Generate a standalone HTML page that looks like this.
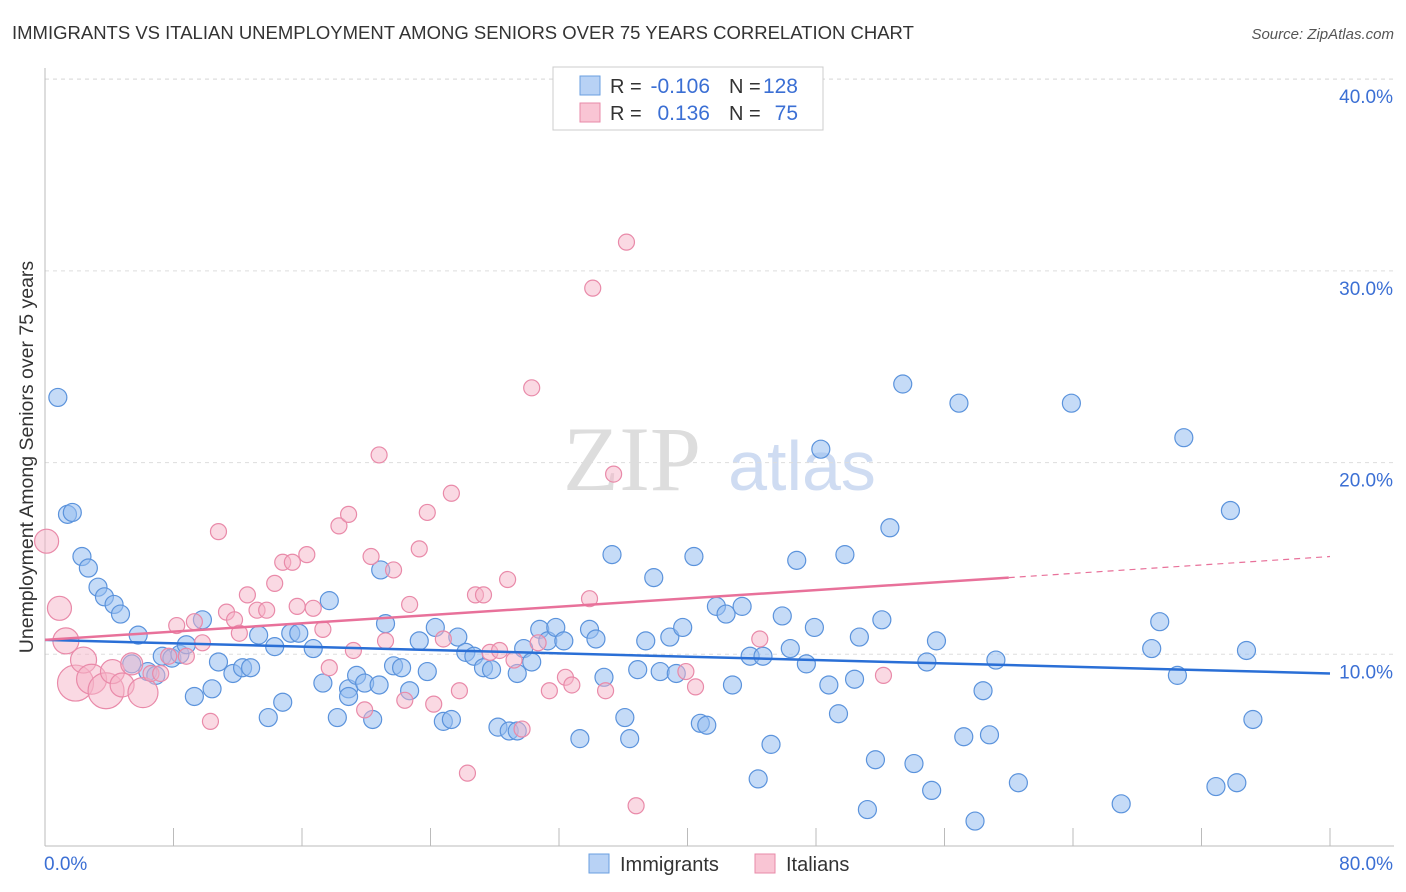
<!DOCTYPE html>
<html><head><meta charset="utf-8"><style>
body{margin:0;background:#fff;font-family:"Liberation Sans",sans-serif;}
svg{display:block}
</style></head><body>
<svg id="chart" width="1406" height="892" xmlns="http://www.w3.org/2000/svg">
<text x="12" y="39" font-size="18.5" fill="#333">IMMIGRANTS VS ITALIAN UNEMPLOYMENT AMONG SENIORS OVER 75 YEARS CORRELATION CHART</text>
<text x="1394" y="39" font-size="15" font-style="italic" fill="#555" text-anchor="end">Source: ZipAtlas.com</text>
<g>
<text x="632" y="490" font-size="92" font-family="Liberation Serif,serif" fill="#ddd" text-anchor="middle">ZIP</text>
<text x="802" y="490" font-size="70" fill="#cfdcf2" text-anchor="middle">atlas</text>
</g>
<g id="grid"></g><g id="axes"></g><g id="pts"></g><g id="trend"></g>
<text transform="translate(33,457) rotate(-90)" font-size="19.5" fill="#333" text-anchor="middle">Unemployment Among Seniors over 75 years</text>
<g>
<rect x="553" y="67" width="270" height="63" fill="#fff" stroke="#ccc"/>
<rect x="580" y="76" width="20" height="19" fill="#b8d2f5" stroke="#6a9fe0"/>
<rect x="580" y="103" width="20" height="19" fill="#f9c5d4" stroke="#e88aa8"/>
<text x="610" y="93" font-size="20" fill="#333">R =</text>
<text x="710" y="93" font-size="21" fill="#3b6fd4" text-anchor="end">-0.106</text>
<text x="729" y="93" font-size="20" fill="#333">N =</text>
<text x="798" y="93" font-size="21" fill="#3b6fd4" text-anchor="end">128</text>
<text x="610" y="120" font-size="20" fill="#333">R =</text>
<text x="710" y="120" font-size="21" fill="#3b6fd4" text-anchor="end">0.136</text>
<text x="729" y="120" font-size="20" fill="#333">N =</text>
<text x="798" y="120" font-size="21" fill="#3b6fd4" text-anchor="end">75</text>
</g>
<g>
<rect x="589" y="854" width="20" height="19" fill="#b8d2f5" stroke="#6a9fe0"/>
<text x="620" y="871" font-size="20" fill="#333">Immigrants</text>
<rect x="755" y="854" width="20" height="19" fill="#f9c5d4" stroke="#e88aa8"/>
<text x="786" y="871" font-size="20" fill="#333">Italians</text>
</g>
</svg>
<script>
const yTicks=[10,20,30,40];
const yTickLabels=["10.0%","20.0%","30.0%","40.0%"];
const xTickVals=[0,8,16,24,32,40,48,56,64,72,80];
const blueX=[0.8,1.4,1.7,2.3,2.7,3.3,3.7,4.3,4.7,5.8,5.4,6.4,6.9,7.3,7.9,8.4,8.8,9.8,9.3,10.4,10.8,11.7,12.3,12.8,13.3,13.9,14.3,14.8,15.3,15.8,17.7,16.7,17.3,18.2,18.9,18.9,19.4,19.9,20.4,20.8,20.9,21.2,21.7,22.2,22.7,23.3,23.8,24.3,24.8,25.3,25.7,26.2,26.7,27.3,27.8,28.2,28.9,29.4,29.8,30.3,29.4,30.8,31.3,31.8,32.3,33.3,33.9,34.3,34.8,35.3,36.1,36.4,36.9,37.4,37.9,38.3,38.9,39.3,39.7,40.4,40.8,41.2,41.8,42.4,42.8,43.4,43.9,44.7,45.2,44.4,45.9,46.4,46.8,47.4,47.9,48.3,48.8,49.4,49.8,50.4,50.7,51.2,51.7,52.1,52.6,53.4,54.1,54.9,55.2,55.5,56.9,57.2,57.9,58.4,58.8,59.2,60.6,63.9,67.0,68.9,69.4,70.5,70.9,72.9,73.8,74.2,74.8,75.2];
const blueY=[23.4,17.3,17.4,15.1,14.5,13.5,13.0,12.6,12.1,11.0,9.5,9.1,8.9,9.9,9.8,10.0,10.5,11.8,7.8,8.2,9.6,9.0,9.3,9.3,11.0,6.7,10.4,7.5,11.1,11.1,12.8,10.3,8.5,6.7,8.2,7.8,8.9,8.5,6.6,8.4,14.4,11.6,9.4,9.3,8.1,10.7,9.1,11.4,6.5,6.6,10.9,10.1,9.9,9.3,9.2,6.2,6.0,6.0,10.3,9.6,9.0,11.3,10.7,11.4,10.7,5.6,11.3,10.8,8.8,15.2,6.7,5.6,9.2,10.7,14.0,9.1,10.9,9.0,11.4,15.1,6.4,6.3,12.5,12.1,8.4,12.5,9.9,9.9,5.3,3.5,12.0,10.3,14.9,9.5,11.4,20.7,8.4,6.9,15.2,8.7,10.9,1.9,4.5,11.8,16.6,24.1,4.3,9.6,2.9,10.7,23.1,5.7,1.3,8.1,5.8,9.7,3.3,23.1,2.2,10.3,11.7,8.9,21.3,3.1,17.5,3.3,10.2,6.6];
const pinkX=[0.1,0.9,1.3,1.9,2.4,2.9,3.8,4.2,4.8,5.4,6.1,6.6,7.2,7.7,8.2,8.8,9.3,9.8,10.3,10.8,11.3,11.8,12.1,12.6,13.2,13.8,14.3,14.8,15.4,15.7,16.3,16.7,17.3,17.7,18.3,18.9,19.2,19.9,20.3,20.8,21.2,21.7,22.4,22.7,23.3,23.8,24.2,24.8,25.3,25.8,26.3,26.8,27.3,27.7,28.3,28.8,29.2,29.7,30.3,30.7,31.4,32.4,32.8,33.9,34.1,34.9,35.4,36.2,36.8,39.9,40.5,44.5,52.2];
const pinkY=[15.9,12.4,10.7,8.5,9.7,8.7,8.1,9.1,8.4,9.5,8.0,9.0,9.0,9.9,11.5,9.9,11.7,10.6,6.5,16.4,12.2,11.8,11.1,13.1,12.3,12.3,13.7,14.8,14.8,12.5,15.2,12.4,11.3,9.3,16.7,17.3,10.2,7.1,15.1,20.4,10.7,14.4,7.6,12.6,15.5,17.4,7.4,10.8,18.4,8.1,3.8,13.1,13.1,10.1,10.2,13.9,9.7,6.1,23.9,10.6,8.1,8.8,8.4,12.9,29.1,8.1,19.4,31.5,2.1,9.1,8.3,10.8,8.9];
const pinkSize=[12,12,13,18,13,15,18,12,12,11,15];
const blueTrend=[10.75,9.0];
const pinkTrend=[10.75,14.0,15.1];
const X0=45,X1=1330,Y0=846;
const xs=v=>X0+(v/80)*(X1-X0);
const ys=v=>Y0-v*19.17;
const NS="http://www.w3.org/2000/svg";
function mk(tag,attrs,parent){const e=document.createElementNS(NS,tag);for(const k in attrs)e.setAttribute(k,attrs[k]);document.getElementById(parent).appendChild(e);return e;}
yTicks.forEach((t,i)=>{
 const l=mk('line',{x1:X0,x2:1394,y1:ys(t),y2:ys(t),stroke:'#ddd','stroke-dasharray':'4,4'},'grid');
 
 
 const tx=mk('text',{x:1393,y:ys(t)+24,'font-size':19,fill:'#3b6fd4','text-anchor':'end'},'axes');
 tx.textContent=yTickLabels[i];
 
 
});
const topLine=mk('line',{x1:X0,x2:1394,y1:79,y2:79,stroke:'#ddd','stroke-dasharray':'4,4'},'grid');


const ya=mk('line',{x1:X0,x2:X0,y1:68,y2:846,stroke:'#bbb'},'axes');


const xa=mk('line',{x1:X0,x2:1394,y1:846,y2:846,stroke:'#bbb'},'axes');


xTickVals.forEach(t=>{
 const l=mk('line',{x1:xs(t),x2:xs(t),y1:828,y2:846,stroke:'#bbb'},'axes');
 
 
});
[[0,'0.0%','start',44],[80,'80.0%','end',1393]].forEach(d=>{
 const tx=mk('text',{x:d[3],y:870,'font-size':19,fill:'#3b6fd4','text-anchor':d[2]},'axes');
 tx.textContent=d[1];
 
 
});
blueX.forEach((v,i)=>{
 const c=mk('circle',{cx:xs(v),cy:ys(blueY[i]),r:9,fill:'rgba(150,190,240,0.55)',stroke:'#5b93dc','stroke-width':1.2},'pts');
 
 
});
pinkX.forEach((v,i)=>{
 const c=mk('circle',{cx:xs(v),cy:ys(pinkY[i]),r:pinkSize[i]||8,fill:'rgba(245,180,200,0.5)',stroke:'#e98aa9','stroke-width':1.2},'pts');
 
 
});
const bt=mk('line',{x1:xs(0),y1:ys(blueTrend[0]),x2:xs(80),y2:ys(blueTrend[1]),stroke:'#2a6fd6','stroke-width':2.5},'trend');


const pt=mk('line',{x1:xs(0),y1:ys(pinkTrend[0]),x2:xs(60),y2:ys(pinkTrend[1]),stroke:'#e8719a','stroke-width':2.5},'trend');


const pd=mk('line',{x1:xs(60),y1:ys(pinkTrend[1]),x2:xs(80),y2:ys(pinkTrend[2]),stroke:'#e8719a','stroke-width':1.2,'stroke-dasharray':'6,5'},'trend');


</script>
</body></html>
